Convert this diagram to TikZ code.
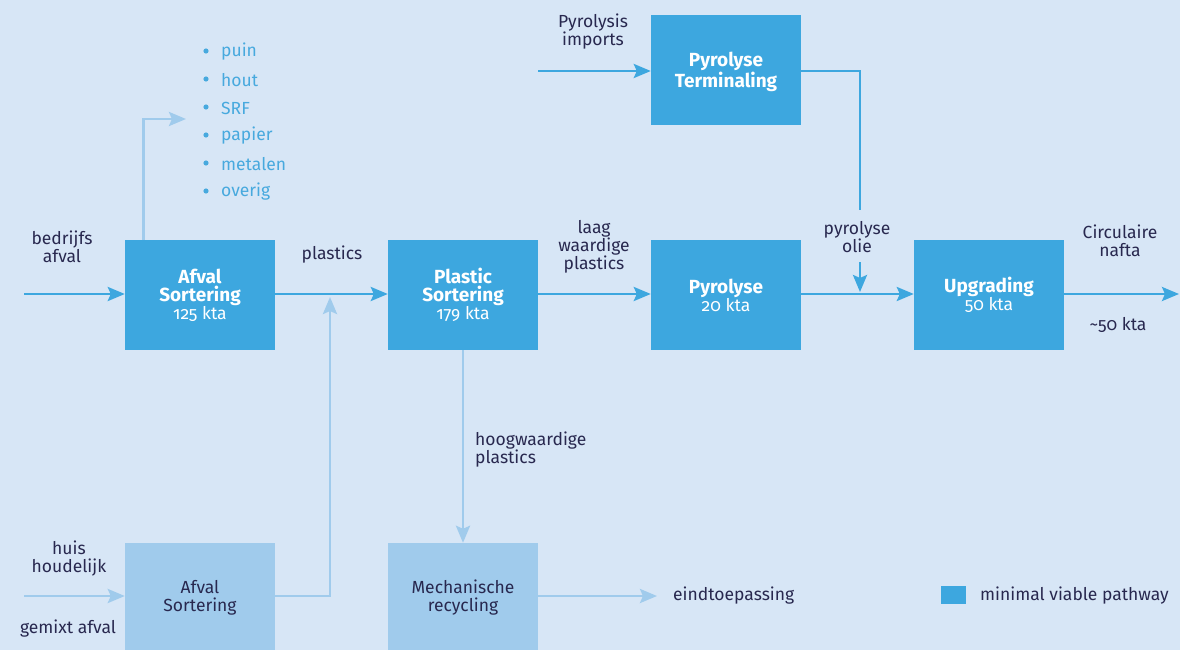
\documentclass[tikz,border=0pt]{standalone}
\usepackage{fontspec}
\setmainfont{Fira Sans}[Numbers=OldStyle]
\usetikzlibrary{arrows.meta}
\definecolor{cdark}{HTML}{3DA7DF}
\definecolor{clight}{HTML}{A0CBEC}
\definecolor{cbg}{HTML}{D7E6F6}
\definecolor{ctext}{HTML}{28284F}
\definecolor{cbullet}{HTML}{47A9DE}
\newcommand{\fsz}{\fontsize{17.5}{18}\selectfont}
\newcommand{\bt}[1]{{\fontsize{19}{18}\selectfont\bfseries #1}}
\begin{document}
\begin{tikzpicture}[x=1pt,y=-1pt,
  dkbox/.style={fill=cdark,draw=none,minimum width=150pt,minimum height=110pt,inner sep=0pt,text=white,align=center,font=\fsz},
  ltbox/.style={fill=clight,draw=none,minimum width=150pt,minimum height=110pt,inner sep=0pt,text=ctext,align=center,font=\fsz},
  lbl/.style={text=ctext,align=center,font=\fsz,inner sep=0pt},
  bul/.style={text=cbullet,anchor=west,font=\fsz,inner sep=0pt},
  darr/.style={draw=cdark,line width=2.8pt,-{Stealth[length=17pt,width=14pt,inset=3pt]}},
  dline/.style={draw=cdark,line width=2.8pt},
  larr/.style={draw=clight,line width=2.8pt,-{Stealth[length=17pt,width=14pt,inset=3pt]}}]
\fill[cbg] (0,0) rectangle (1180,650);
\clip (0,0) rectangle (1180,650);
% boxes
\node[dkbox] (as1) at (200,295) {\bt{Afval}\\\bt{Sortering}\\125 kta};
\node[dkbox] (ps) at (463,295) {\bt{Plastic}\\\bt{Sortering}\\179 kta};
\node[dkbox] (py) at (726,295) {\bt{Pyrolyse}\\20 kta};
\node[dkbox] (up) at (989,295) {\bt{Upgrading}\\50 kta};
\node[dkbox] (pt) at (726,70) {};
\node[text=white,align=center,font=\fsz,inner sep=0pt] (ptt) at (726,72) {\bt{Pyrolyse}\\\bt{Terminaling}};
\node[ltbox] (as2) at (200,598) {Afval\\Sortering};
\node[ltbox] (mr) at (463,598) {Mechanische\\recycling};
\node[fill=cdark,minimum width=25pt,minimum height=18pt,inner sep=0pt] (leg) at (953.5,595) {};
% coordinates
\coordinate (in1) at (24,294);
\coordinate (in2) at (24,596);
\coordinate (imp) at (538,71);
\coordinate (j1) at (330,297);
\coordinate (j2) at (860,292);
\coordinate (brk1) at (860,210);
\coordinate (brk2) at (860,262);
\coordinate (side) at (186,119);
\coordinate (out) at (1179,294);
\coordinate (eind) at (657,596);
% connectors
\draw[darr] (in1) -- (in1 -| as1.west);
\draw[darr] (in1 -| as1.east) -- (in1 -| ps.west);
\draw[darr] (in1 -| ps.east) -- (in1 -| py.west);
\draw[darr] (in1 -| py.east) -- (in1 -| up.west);
\draw[darr] (in1 -| up.east) -- (out);
\draw[darr] (imp) -- (imp -| pt.west);
\draw[dline] (imp -| pt.east) -| (brk1);
\draw[darr] (brk2) -- (j2);
\draw[larr] (in2 -| as2.east) -| (j1);
\draw[larr] ([xshift=19pt]as1.north west) |- (side);
\draw[larr] (ps.south) -- (mr.north);
\draw[larr] (eind -| mr.east) -- (eind);
\draw[larr] (in2) -- (in2 -| as2.west);
% labels
\node[lbl] (l1) at (62,247) {bedrijfs\\afval};
\node[lbl] (l2) at (332,255) {plastics};
\node[lbl] (l3) at (594,247) {laag\\waardige\\plastics};
\node[lbl] (l4) at (857,237) {pyrolyse\\olie};
\node[lbl] (l5) at (1120,241) {Circulaire\\nafta};
\node[lbl] (l6) at (1118,325) {\textasciitilde50 kta};
\node[lbl] (l7) at (593,32) {Pyrolysis\\imports};
\node[lbl,align=left,anchor=west] (l8) at (475,450) {hoogwaardige\\plastics};
\node[lbl] (l9) at (69,559) {huis\\houdelijk};
\node[lbl] (l10) at (68,629) {gemixt afval};
\node[lbl,anchor=west] (l11) at (673,596) {eindtoepassing};
\node[lbl,anchor=west] (l12) at (980,596) {minimal viable pathway};
% bullets
\foreach \t/\y in {puin/51,hout/79,SRF/107,papier/135,metalen/163,overig/191}{
  \fill[cbullet] (206,\y) circle (2.6pt);
  \node[bul] at (221,\y+1) {\t};
}
\end{tikzpicture}
\end{document}
